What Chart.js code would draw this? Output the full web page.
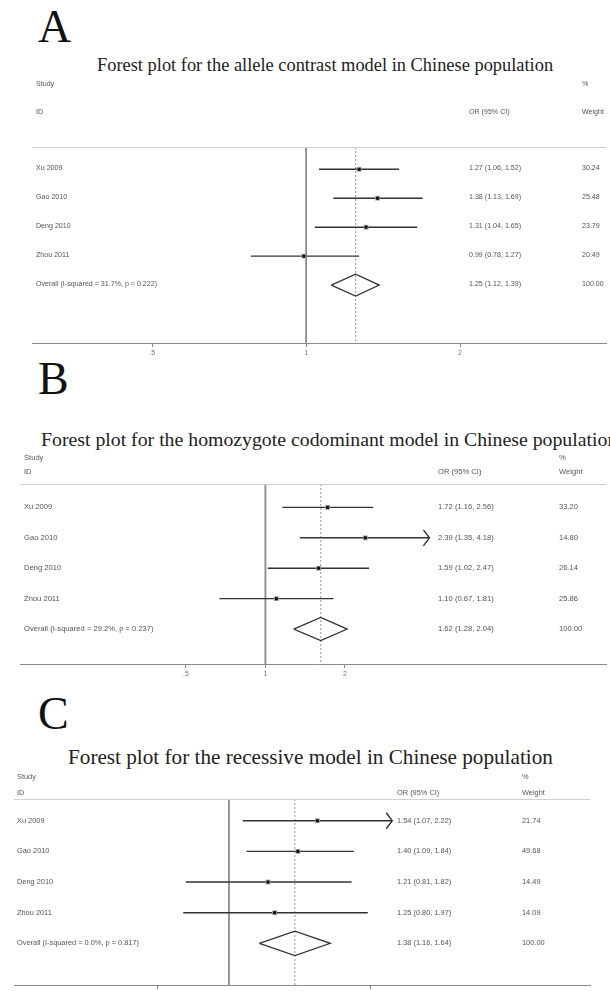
<!DOCTYPE html>
<html><head><meta charset="utf-8">
<script src="https://cdn.jsdelivr.net/npm/chart.js@4.4.0/dist/chart.umd.min.js"></script>
<style>
html,body{margin:0;padding:0;background:#fff;width:610px;height:991px;overflow:hidden;position:relative;font-family:"Liberation Sans",Arial,sans-serif;}
.t{position:absolute;white-space:nowrap;color:#555;line-height:1;transform:translateY(-50%);will-change:transform;}
.letter{position:absolute;font-family:"Liberation Serif";font-size:46px;color:#111;line-height:1;}
.title{position:absolute;font-family:"Liberation Serif";color:#222;white-space:nowrap;line-height:1;transform:translateY(-50%);}
canvas{position:absolute;left:0;}
</style></head><body>
<div class="letter" style="left:38px;top:4px;">A</div>
<div class="title" style="left:97px;top:65px;font-size:18.4px;">Forest plot for the allele contrast model in Chinese population</div>
<div class="letter" style="left:38px;top:356px;">B</div>
<div class="title" style="left:41px;top:440px;font-size:19.8px;">Forest plot for the homozygote codominant model in Chinese population</div>
<div class="letter" style="left:38px;top:691px;">C</div>
<div class="title" style="left:68px;top:758px;font-size:21.2px;">Forest plot for the recessive model in Chinese population</div>
<canvas id="cA"></canvas><canvas id="cB"></canvas><canvas id="cC"></canvas>
<script>
// ---------- Panel A : allele contrast ----------
const studiesA = ['Xu 2009', 'Gao 2010', 'Deng 2010', 'Zhou 2011'];
const orA   = [1.27, 1.38, 1.31, 0.99];
const lowA  = [1.06, 1.13, 1.04, 0.78];
const highA = [1.52, 1.69, 1.65, 1.27];
const weightA = ['30.24', '25.48', '23.79', '20.49'];
const overallA = [1.25, 1.12, 1.39];
const overallLabelA = 'Overall  (I-squared = 31.7%, p = 0.222)';
const arrowA = [false, false, false, false];
const ticksA = [0.5, 1, 2];
const tickLabelsA = ['.5', '1', '2'];

// ---------- Panel B : homozygote codominant ----------
const studiesB = ['Xu 2009', 'Gao 2010', 'Deng 2010', 'Zhou 2011'];
const orB   = [1.72, 2.39, 1.59, 1.10];
const lowB  = [1.16, 1.35, 1.02, 0.67];
const highB = [2.56, 4.18, 2.47, 1.81];
const weightB = ['33.20', '14.80', '26.14', '25.86'];
const overallB = [1.62, 1.28, 2.04];
const overallLabelB = 'Overall  (I-squared = 29.2%, p = 0.237)';
const arrowB = [false, true, false, false];
const ticksB = [0.5, 1, 2];
const tickLabelsB = ['.5', '1', '2'];

// ---------- Panel C : recessive ----------
const studiesC = ['Xu 2009', 'Gao 2010', 'Deng 2010', 'Zhou 2011'];
const orC   = [1.54, 1.40, 1.21, 1.25];
const lowC  = [1.07, 1.09, 0.81, 0.80];
const highC = [2.22, 1.84, 1.82, 1.97];
const weightC = ['21.74', '49.68', '14.49', '14.09'];
const overallC = [1.38, 1.16, 1.64];
const overallLabelC = 'Overall  (I-squared = 0.0%, p = 0.817)';
const arrowC = [true, false, false, false];
const ticksC = [0.707, 2];
const tickLabelsC = ['.707', '2'];

const fmt = (a, b, c) => `${a.toFixed(2)} (${b.toFixed(2)}, ${c.toFixed(2)})`;

function addText(txt, x, y, fs, cls) {
  const d = document.createElement('div');
  d.className = cls || 't';
  d.textContent = txt;
  d.style.left = x + 'px';
  d.style.top = y + 'px';
  d.style.fontSize = fs + 'px';
  document.body.appendChild(d);
}

function makePanel(p) {
  const n = p.studies.length;
  const ds = [];
  ds.push({order: 6, data: [{x: 1, y: p.ymin}, {x: 1, y: p.ymax}], showLine: true, borderColor: '#8c8c8c', borderWidth: 1.8, pointRadius: 0});
  ds.push({order: 5, data: [{x: p.overall[0], y: p.ymin}, {x: p.overall[0], y: p.ymax}], showLine: true, borderColor: '#9a9a9a', borderWidth: 1, borderDash: [2, 2], pointRadius: 0});
  p.studies.forEach((s, i) => {
    ds.push({order: 3, data: [{x: p.low[i], y: i}, {x: p.high[i], y: i}], showLine: true, borderColor: '#333', borderWidth: 1.4, pointRadius: 0});
  });
  ds.push({order: 2, data: p.or.map((v, i) => ({x: v, y: i})), showLine: false, pointStyle: 'rect', pointRadius: 3.4, backgroundColor: '#a8a8a8', borderWidth: 0});
  ds.push({order: 1, data: p.or.map((v, i) => ({x: v, y: i})), showLine: false, pointStyle: 'rect', pointRadius: 2.2, backgroundColor: '#111', borderWidth: 0});
  const h = p.dh;
  ds.push({order: 3, data: [{x: p.overall[1], y: n}, {x: p.overall[0], y: n - h}, {x: p.overall[2], y: n}, {x: p.overall[0], y: n + h}, {x: p.overall[1], y: n}],
    showLine: true, borderColor: '#333', borderWidth: 1.3, pointRadius: 0, fill: false, tension: 0});

  const deco = {
    id: 'deco',
    afterDatasetsDraw(chart) {
      const {ctx, chartArea: a, scales: {x, y}} = chart;
      ctx.save();
      ctx.strokeStyle = '#d0d0d0'; ctx.lineWidth = 1;
      ctx.beginPath(); ctx.moveTo(a.left, a.top + 0.5); ctx.lineTo(a.right, a.top + 0.5); ctx.stroke();
      ctx.strokeStyle = '#333'; ctx.lineWidth = 1.4;
      p.arrows.forEach((f, i) => {
        if (!f) return;
        const px = x.getPixelForValue(p.high[i]);
        const py = y.getPixelForValue(i);
        ctx.beginPath(); ctx.moveTo(px - 6, py - 8); ctx.lineTo(px, py); ctx.lineTo(px - 6, py + 8); ctx.stroke();
      });
      ctx.restore();
    }
  };

  const cv = document.getElementById(p.id);
  cv.width = 610; cv.height = p.h; cv.style.top = p.top + 'px';
  const chart = new Chart(cv, {
    type: 'scatter',
    data: {datasets: ds},
    options: {
      responsive: false, animation: false, devicePixelRatio: 1, events: [],
      layout: {padding: {left: p.padL, right: p.padR, top: p.padT, bottom: 0}},
      plugins: {legend: {display: false}, tooltip: {enabled: false}},
      scales: {
        x: {
          type: 'logarithmic', min: p.xmin, max: p.xmax, bounds: 'data',
          afterBuildTicks: s => { s.ticks = p.ticks.map(v => ({value: v})); },
          afterFit: s => { s.height = 17; },
          ticks: {callback: (v, i) => p.tickLabels[i], font: {size: 7, family: 'Liberation Sans'}, color: '#777', padding: 2, autoSkip: false, maxRotation: 0},
          grid: {display: true, drawOnChartArea: false, drawTicks: true, tickLength: 4, color: '#888'},
          border: {display: true, color: '#8a8a8a', width: 1}
        },
        y: {type: 'linear', min: p.ymin, max: p.ymax, reverse: true, display: false}
      }
    },
    plugins: [deco]
  });

  const ys = chart.scales.y;
  p.studies.forEach((s, i) => {
    const yy = p.top + ys.getPixelForValue(i);
    addText(s, p.labelX, yy, p.fs);
    addText(fmt(p.or[i], p.low[i], p.high[i]), p.orX, yy, p.fs);
    addText(p.weights[i], p.wX, yy, p.fs);
  });
  const yo = p.top + ys.getPixelForValue(n);
  addText(p.overallLabel, p.labelX, yo, p.fs);
  addText(fmt(p.overall[0], p.overall[1], p.overall[2]), p.orX, yo, p.fs);
  addText('100.00', p.wX, yo, p.fs);
  addText('Study', p.labelX, p.hy1, p.fs);
  addText('%', p.wX, p.hy1, p.fs);
  addText('ID', p.labelX, p.hy2, p.fs);
  addText('OR (95% CI)', p.orX, p.hy2, p.fs);
  addText('Weight', p.wX, p.hy2, p.fs);
}

makePanel({id: 'cA', top: 140, h: 220, padL: 32, padR: 0, padT: 7, xmin: 0.291, xmax: 3.86, ymin: -0.77, ymax: 6.0, dh: 0.38,
  studies: studiesA, or: orA, low: lowA, high: highA, weights: weightA, overall: overallA, overallLabel: overallLabelA, arrows: arrowA,
  ticks: ticksA, tickLabels: tickLabelsA, labelX: 36, orX: 469, wX: 582, fs: 7.1, hy1: 85, hy2: 113});
makePanel({id: 'cB', top: 478, h: 203, padL: 20, padR: 0, padT: 6, xmin: 0.1176, xmax: 19.5, ymin: -0.77, ymax: 5.15, dh: 0.38,
  studies: studiesB, or: orB, low: lowB, high: highB, weights: weightB, overall: overallB, overallLabel: overallLabelB, arrows: arrowB,
  ticks: ticksB, tickLabels: tickLabelsB, labelX: 24, orX: 438, wX: 559, fs: 7.6, hy1: 458, hy2: 472});
makePanel({id: 'cC', top: 793, h: 209, padL: 14, padR: 20, padT: 6, xmin: 0.3501, xmax: 5.83, ymin: -0.71, ymax: 5.36, dh: 0.4,
  studies: studiesC, or: orC, low: lowC, high: highC, weights: weightC, overall: overallC, overallLabel: overallLabelC, arrows: arrowC,
  ticks: ticksC, tickLabels: tickLabelsC, labelX: 17, orX: 397, wX: 522, fs: 7.4, hy1: 777, hy2: 793});
</script>
</body></html>
